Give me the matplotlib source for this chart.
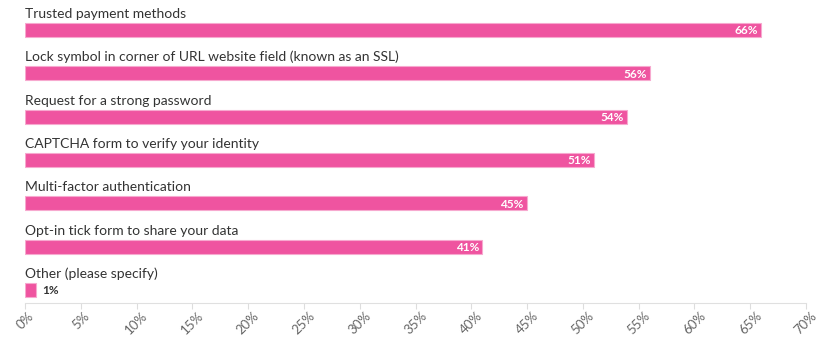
import matplotlib.pyplot as plt
import numpy as np

categories = [
    "Trusted payment methods",
    "Lock symbol in corner of URL website field (known as an SSL)",
    "Request for a strong password",
    "CAPTCHA form to verify your identity",
    "Multi-factor authentication",
    "Opt-in tick form to share your data",
    "Other (please specify)",
]
values = [66, 56, 54, 51, 45, 41, 1]
tick_values = list(range(0, 75, 5))
tick_labels = [f"{t}%" for t in tick_values]

plt.rcParams['font.family'] = ['Lato', 'DejaVu Sans']

fig = plt.figure(figsize=(8.23, 3.4), dpi=100)
ax = fig.add_axes([25 / 823, 1 - 303 / 340, (806 - 25) / 823, 303 / 340])

bar_color = '#EF54A0'
y = np.arange(len(categories))
ax.barh(y, values, height=0.32, color=bar_color, edgecolor='#F7A9CF', linewidth=0.8)

for i, (cat, val) in enumerate(zip(categories, values)):
    # category label above each bar
    ax.text(0, i - 0.37, cat, ha='left', va='center', fontsize=10, color='#333333')
    if val >= 5:
        ax.text(val - 0.3, i + 0.02, f"{val}%", ha='right', va='center',
                fontsize=8.5, fontweight='bold', color='white')
    else:
        ax.text(val + 0.5, i + 0.02, f"{val}%", ha='left', va='center',
                fontsize=8.5, fontweight='bold', color='#333333')

ax.set_xlim(0, 70)
ax.set_ylim(6.3, -0.69)
ax.set_xticks(tick_values)
ax.set_xticklabels(tick_labels, rotation=45, ha='center', fontsize=9.5, color='#666666')
ax.set_yticks([])
ax.tick_params(axis='x', length=4, color='#DDDDDD', pad=1)

for side in ['top', 'right', 'left']:
    ax.spines[side].set_visible(False)
ax.spines['bottom'].set_color('#E0E0E0')

fig.savefig('out.png', dpi=100)
